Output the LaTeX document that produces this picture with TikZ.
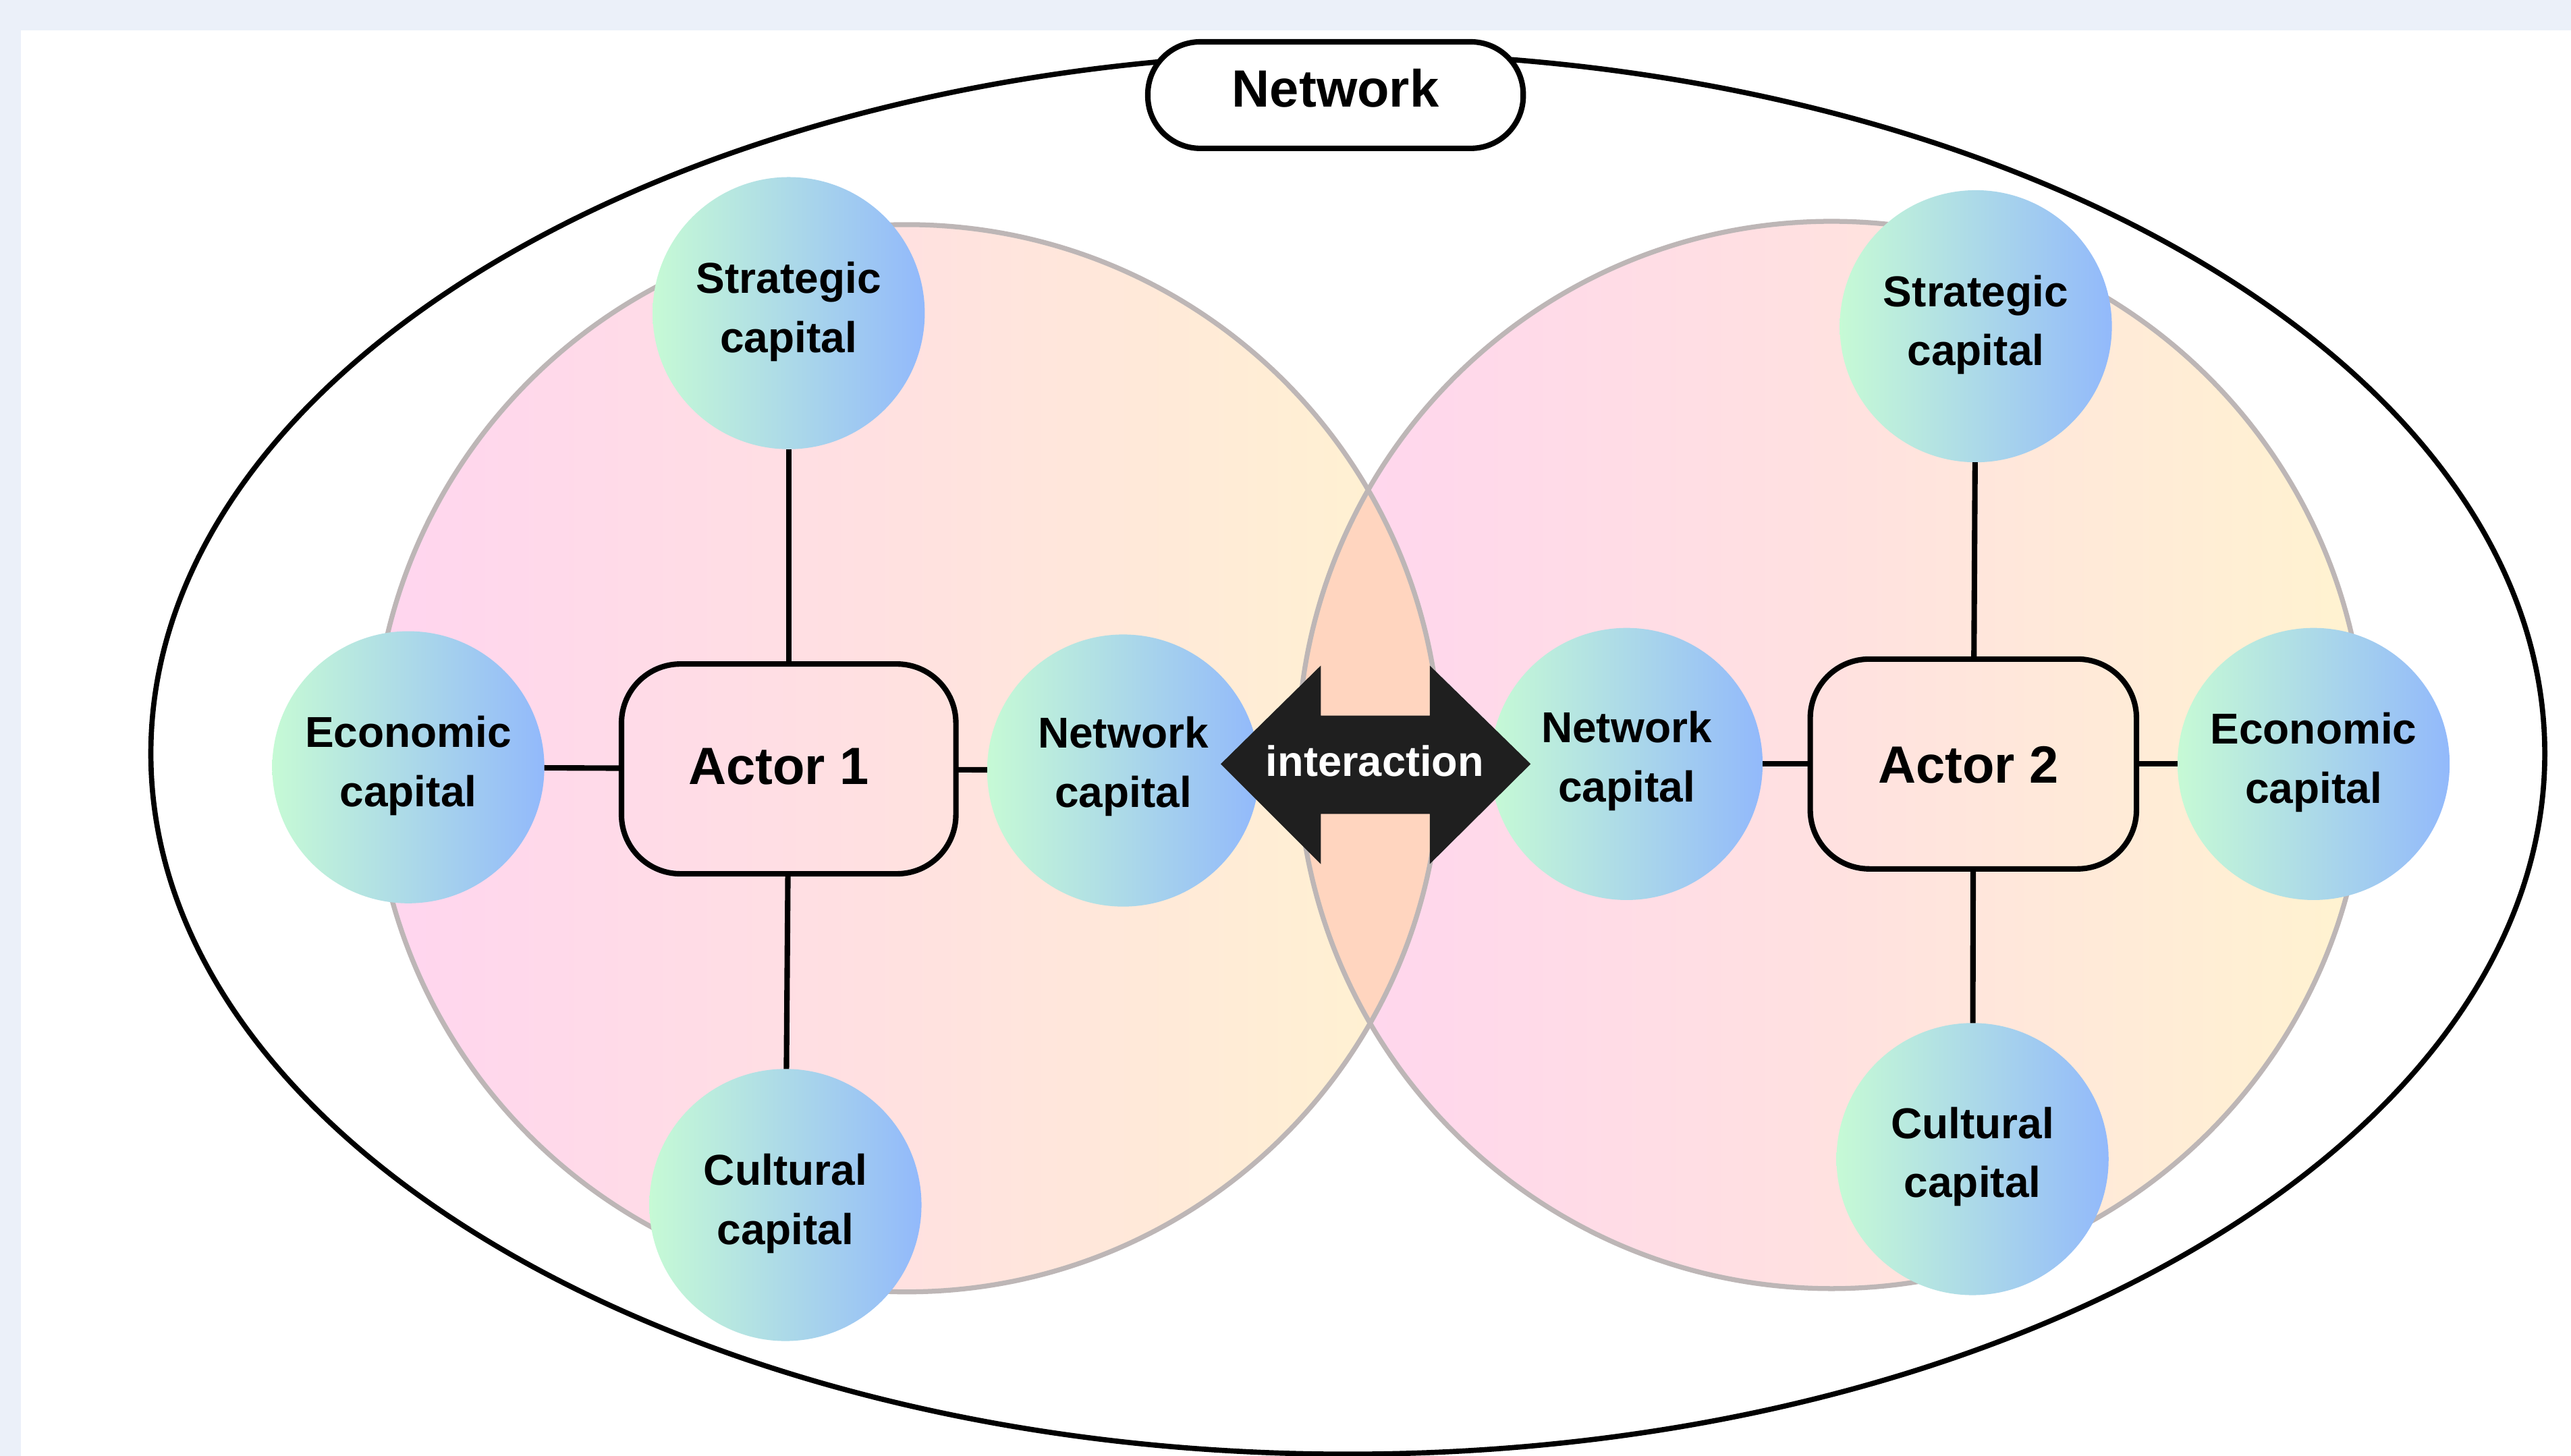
\documentclass[tikz,border=0pt]{standalone}
\usepackage{fontspec}
\setmainfont{Liberation Sans}
\definecolor{pagebg}{HTML}{EBF0F9}
\definecolor{bigL}{HTML}{FFD5EF}
\definecolor{bigR}{HTML}{FFF3D0}
\definecolor{bigM}{HTML}{FFE1E0}
\definecolor{lens}{HTML}{FFD5BF}
\definecolor{ring}{HTML}{BDB6B6}
\definecolor{capL}{HTML}{C6FAD5}
\definecolor{capR}{HTML}{92B9FB}
\definecolor{arrowfill}{HTML}{1F1F1F}
% two-line label, #1 = raise of the text block from the node centre
\newcommand\captxt[3]{\raisebox{\dimexpr #1-3.75pt\relax}[0pt][0pt]{\begin{tabular}[c]{@{}c@{}}#2\\#3\end{tabular}}}
\tikzset{
  bigcircle/.style={circle,minimum size=13.02cm,inner sep=0pt,outer sep=0pt,left color=bigL,right color=bigR,middle color=bigM},
  ringline/.style={draw=ring,line width=1.7pt},
  capnode/.style={circle,minimum size=3.32cm,inner sep=0pt,outer sep=0pt,left color=capL,right color=capR,
    font=\fontsize{15}{20.5}\selectfont\bfseries},
  actorbox/.style={draw=black,line width=1.9pt,rounded corners=0.72cm,inner sep=0pt,outer sep=0pt,
    font=\fontsize{18.2}{22}\selectfont\bfseries},
  netbox/.style={draw=black,fill=white,line width=1.9pt,rounded corners=0.64cm,inner sep=0pt,outer sep=0pt,
    minimum width=4.58cm,minimum height=1.3cm,font=\fontsize{18.2}{22}\selectfont\bfseries},
  link/.style={draw=black,line width=1.9pt},
  outerline/.style={draw=black,line width=1.8pt},
}
\begin{document}
\begin{tikzpicture}[x=0.02cm,y=-0.02cm]
\useasboundingbox (0,0) rectangle (1568,888.1);
\fill[pagebg] (0,0) rectangle (1568,888.1);
\fill[white] (12.8,18.5) rectangle (1568,888.1);
\draw[outerline] (822,459.7) ellipse (730 and 427.3);
% large actor circles
\node[bigcircle] (bigA) at (553,462.5) {};
\node[bigcircle] (bigB) at (1117,460.5) {};
\begin{scope}
  \clip (553,462.5) circle (325.5);
  \fill[lens] (1117,460.5) circle (325.5);
\end{scope}
\draw[ringline] (553,462.5) circle (325.5);
\draw[ringline] (1117,460.5) circle (325.5);
% network label
\node[netbox] (net) at (814.5,58) {\raisebox{-4.2pt}[0pt][0pt]{Network}};
% actors
\node[actorbox,minimum width=4.08cm,minimum height=2.56cm] (actA) at (481,469) {\raisebox{-5.4pt}[0pt][0pt]{Actor 1}\hspace*{0.24cm}};
\node[actorbox,minimum width=3.98cm,minimum height=2.56cm] (actB) at (1203.5,466) {\raisebox{-6.5pt}[0pt][0pt]{Actor 2}\hspace*{0.12cm}};
% capital nodes
\node[capnode] (stratA) at (481,191) {\captxt{0.9pt}{Strategic}{capital}};
\node[capnode] (econA) at (249,468) {\captxt{0.9pt}{Economic}{capital}};
\node[capnode] (netA) at (685,470) {\captxt{1.8pt}{Network}{capital}};
\node[capnode] (cultA) at (479,735) {\captxt{0.9pt}{Cultural}{capital}};
\node[capnode] (stratB) at (1205,199) {\captxt{0.9pt}{Strategic}{capital}};
\node[capnode] (econB) at (1411,466) {\captxt{0.9pt}{Economic}{capital}};
\node[capnode] (netB) at (992,466) {\captxt{1.4pt}{Network}{capital}};
\node[capnode] (cultB) at (1203,707) {\captxt{1.2pt}{Cultural}{capital}};
% connectors
\draw[link] (actA) -- (stratA);
\draw[link] (actA) -- (econA);
\draw[link] (actA) -- (netA);
\draw[link] (actA) -- (cultA);
\draw[link] (actB) -- (stratB);
\draw[link] (actB) -- (econB);
\draw[link] (actB) -- (netB);
\draw[link] (actB) -- (cultB);
% interaction arrow
\fill[arrowfill] (744.5,466) -- (805.5,406) -- (805.5,436.5) -- (872,436.5) -- (872,406) -- (933.5,466)
  -- (872,527) -- (872,496.5) -- (805.5,496.5) -- (805.5,527) -- cycle;
\node[text=white,inner sep=0pt,font=\fontsize{14.8}{18}\selectfont\bfseries] (inter) at (838.5,464) {interaction};
\end{tikzpicture}
\end{document}
